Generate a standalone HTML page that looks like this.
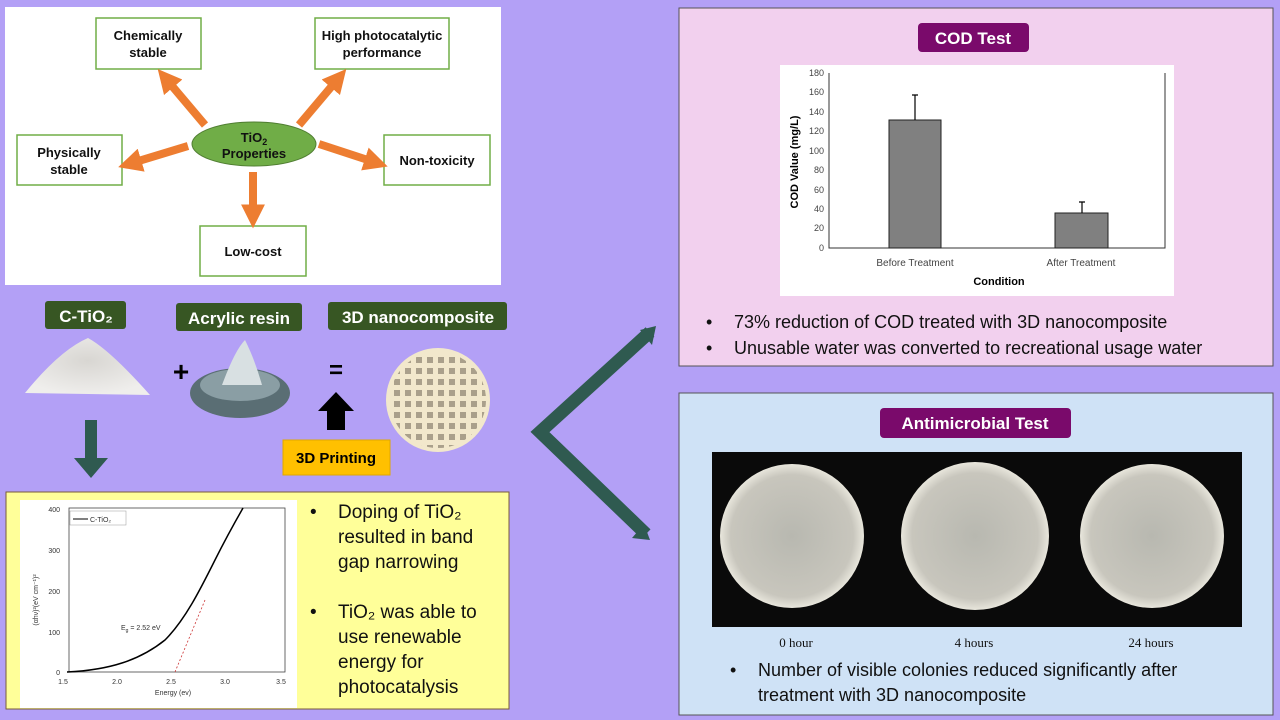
<!DOCTYPE html>
<html><head><meta charset="utf-8"><style>
html,body{margin:0;padding:0;width:1280px;height:720px;overflow:hidden;background:#b3a0f6}
svg{display:block}
text{font-family:"Liberation Sans",sans-serif}
text.serif{font-family:"Liberation Serif",serif}
</style></head><body>
<svg width="1280" height="720" viewBox="0 0 1280 720">
<defs>
<marker id="oh" markerWidth="3" markerHeight="3" refX="1.2" refY="1.5" orient="auto" markerUnits="strokeWidth"><path d="M0,0 L3,1.5 L0,3 Z" fill="#ed7d31"/></marker>
<radialGradient id="dish" cx="50%" cy="50%" r="50%"><stop offset="0" stop-color="#b8b8b0"/><stop offset="0.85" stop-color="#c8c6bd"/><stop offset="1" stop-color="#e8e6dc"/></radialGradient>
<radialGradient id="powder" cx="50%" cy="40%" r="60%"><stop offset="0" stop-color="#d8d6d2"/><stop offset="1" stop-color="#efeeec"/></radialGradient>
<pattern id="grid" width="11" height="11" patternUnits="userSpaceOnUse" x="391" y="354"><rect x="3" y="3" width="6" height="6" fill="#7a7060"/></pattern>
</defs>
<rect width="1280" height="720" fill="#b3a0f6"/>
<rect x="5" y="7" width="496" height="278" fill="#fff"/>
<g fill="#fff" stroke="#70ad47" stroke-width="1.5">
<rect x="96" y="18" width="105" height="51"/>
<rect x="315" y="18" width="134" height="51"/>
<rect x="17" y="135" width="105" height="50"/>
<rect x="384" y="135" width="106" height="50"/>
<rect x="200" y="226" width="106" height="50"/>
</g>
<g stroke="#ed7d31" stroke-width="8" marker-end="url(#oh)">
<line x1="205" y1="125" x2="167" y2="80"/>
<line x1="299" y1="125" x2="337" y2="80"/>
<line x1="188" y1="146" x2="132" y2="163"/>
<line x1="319" y1="144" x2="374" y2="162"/>
<line x1="253" y1="172" x2="253" y2="214"/>
</g>
<ellipse cx="254" cy="144" rx="62" ry="22" fill="#70ad47" stroke="#507e32" stroke-width="1"/>
<g font-weight="bold" font-size="13" text-anchor="middle" fill="#111">
<text x="148" y="40">Chemically</text><text x="148" y="57">stable</text>
<text x="382" y="40">High photocatalytic</text><text x="382" y="57">performance</text>
<text x="69" y="157">Physically</text><text x="69" y="174">stable</text>
<text x="437" y="165">Non-toxicity</text>
<text x="253" y="256">Low-cost</text>
<text x="254" y="142">TiO<tspan font-size="9" dy="3">2</tspan></text>
<text x="254" y="158">Properties</text>
</g>
<g font-weight="bold" fill="#fff" font-size="17" text-anchor="middle">
<rect x="45" y="301" width="81" height="28" rx="3" fill="#375623"/>
<text x="86" y="322">C-TiO₂</text>
<rect x="176" y="303" width="126" height="28" rx="3" fill="#375623"/>
<text x="239" y="324">Acrylic resin</text>
<rect x="328" y="302" width="179" height="28" rx="3" fill="#375623"/>
<text x="418" y="323">3D nanocomposite</text>
</g>
<path d="M25,393 Q60,350 88,338 Q110,350 150,395 Z" fill="url(#powder)"/>
<text x="181" y="381" font-size="28" font-weight="bold" text-anchor="middle">+</text>
<ellipse cx="240" cy="393" rx="50" ry="25" fill="#5a6e74"/>
<ellipse cx="240" cy="385" rx="40" ry="16" fill="#8a9ea4"/>
<path d="M222,385 Q235,350 245,340 Q255,360 262,385 Z" fill="#d8e0e2"/>
<text x="336" y="378" font-size="24" font-weight="bold" text-anchor="middle">=</text>
<path d="M327,430 L327,411 L318,411 L336,392 L354,411 L345,411 L345,430 Z" fill="#000"/>
<rect x="283" y="440" width="107" height="35" fill="#ffc000" stroke="#e0a800"/>
<text x="336" y="463" font-size="15" font-weight="bold" text-anchor="middle">3D Printing</text>
<circle cx="438" cy="400" r="52" fill="#f2e8cc"/>
<circle cx="438" cy="400" r="48" fill="url(#grid)" opacity="0.6"/>
<path d="M85,420 L97,420 L97,458 L108,458 L91,478 L74,458 L85,458 Z" fill="#2f5a50"/>
<polyline points="650,332 540,432 646,534" fill="none" stroke="#2f5a50" stroke-width="13"/>
<path d="M656,326 L652,345 L640,330 Z" fill="#2f5a50"/>
<path d="M650,540 L632,538 L644,524 Z" fill="#2f5a50"/>
<rect x="6" y="492" width="503" height="217" fill="#ffff99" stroke="#7a5c3a" stroke-width="1"/>
<rect x="20" y="500" width="277" height="208" fill="#fff"/>
<g font-size="7" fill="#333">
<rect x="69" y="508" width="216" height="164" fill="none" stroke="#444" stroke-width="0.8"/>
<text x="60" y="512" text-anchor="end">400</text><text x="60" y="553" text-anchor="end">300</text><text x="60" y="594" text-anchor="end">200</text><text x="60" y="635" text-anchor="end">100</text><text x="60" y="675" text-anchor="end">0</text>
<text x="63" y="684" text-anchor="middle">1.5</text><text x="117" y="684" text-anchor="middle">2.0</text><text x="171" y="684" text-anchor="middle">2.5</text><text x="225" y="684" text-anchor="middle">3.0</text><text x="281" y="684" text-anchor="middle">3.5</text>
<text x="173" y="695" text-anchor="middle">Energy (ev)</text>
<text x="121" y="630">E<tspan font-size="5" dy="2">g</tspan><tspan dy="-2"> = 2.52 eV</tspan></text>
<text transform="translate(38,600) rotate(-90)" text-anchor="middle">(αhν)²(eV cm⁻¹)²</text>
<rect x="70" y="511" width="56" height="14" fill="#fff" stroke="#999" stroke-width="0.5"/>
<line x1="73" y1="519" x2="88" y2="519" stroke="#000"/><text x="90" y="522">C-TiO₂</text>
</g>
<path d="M67,672 C110,670 140,660 165,640 C185,620 200,590 215,560 C225,540 235,522 243,508" fill="none" stroke="#000" stroke-width="1.5"/>
<line x1="175" y1="672" x2="205" y2="600" stroke="#c33" stroke-dasharray="2,2" stroke-width="0.8"/>
<g font-size="19" fill="#111">
<text x="310" y="518">•</text><text x="338" y="518">Doping of TiO₂</text>
<text x="338" y="543">resulted in band</text><text x="338" y="568">gap narrowing</text>
<text x="310" y="618">•</text><text x="338" y="618">TiO₂ was able to</text>
<text x="338" y="643">use renewable</text><text x="338" y="668">energy for</text><text x="338" y="693">photocatalysis</text>
</g>
<rect x="679" y="8" width="594" height="358" fill="#f2d0ee" stroke="#555" stroke-width="1"/>
<rect x="918" y="23" width="111" height="29" rx="4" fill="#7a0a6b"/>
<text x="973" y="44" font-size="17" font-weight="bold" fill="#fff" text-anchor="middle">COD Test</text>
<rect x="780" y="65" width="394" height="231" fill="#fff"/>
<g font-size="9" fill="#444" text-anchor="end">
<text x="824" y="76">180</text><text x="824" y="95">160</text><text x="824" y="115">140</text><text x="824" y="134">120</text><text x="824" y="154">100</text><text x="824" y="173">80</text><text x="824" y="193">60</text><text x="824" y="212">40</text><text x="824" y="231">20</text><text x="824" y="251">0</text>
</g>
<path d="M829,73 L829,248 L1165,248 L1165,73" fill="none" stroke="#333" stroke-width="1"/>
<rect x="889" y="120" width="52" height="128" fill="#808080" stroke="#222"/>
<rect x="1055" y="213" width="53" height="35" fill="#808080" stroke="#222"/>
<path d="M915,120 V95 M912,95 H918 M1082,213 V202 M1079,202 H1085" stroke="#000" stroke-width="1.2"/>
<text x="915" y="266" font-size="10" fill="#444" text-anchor="middle">Before Treatment</text>
<text x="1081" y="266" font-size="10" fill="#444" text-anchor="middle">After Treatment</text>
<text x="999" y="285" font-size="11" font-weight="bold" text-anchor="middle">Condition</text>
<text transform="translate(798,162) rotate(-90)" font-size="11" font-weight="bold" text-anchor="middle">COD Value (mg/L)</text>
<g font-size="18" fill="#111">
<text x="706" y="328">•</text><text x="734" y="328">73% reduction of COD treated with 3D nanocomposite</text>
<text x="706" y="354">•</text><text x="734" y="354">Unusable water was converted to recreational usage water</text>
</g>
<rect x="679" y="393" width="594" height="322" fill="#cfe2f6" stroke="#555" stroke-width="1"/>
<rect x="880" y="408" width="191" height="30" rx="4" fill="#7a0a6b"/>
<text x="975" y="429" font-size="17" font-weight="bold" fill="#fff" text-anchor="middle">Antimicrobial Test</text>
<rect x="712" y="452" width="530" height="175" fill="#0a0a0a"/>
<circle cx="792" cy="536" r="72" fill="url(#dish)"/>
<circle cx="975" cy="536" r="74" fill="url(#dish)"/>
<circle cx="1152" cy="536" r="72" fill="url(#dish)"/>
<g font-size="13" fill="#111" text-anchor="middle">
<text class="serif" x="796" y="647">0 hour</text><text class="serif" x="974" y="647">4 hours</text><text class="serif" x="1151" y="647">24 hours</text>
</g>
<g font-size="18" fill="#111">
<text x="730" y="676">•</text><text x="758" y="676">Number of visible colonies reduced significantly after</text>
<text x="758" y="701">treatment with 3D nanocomposite</text>
</g>
</svg>
</body></html>
